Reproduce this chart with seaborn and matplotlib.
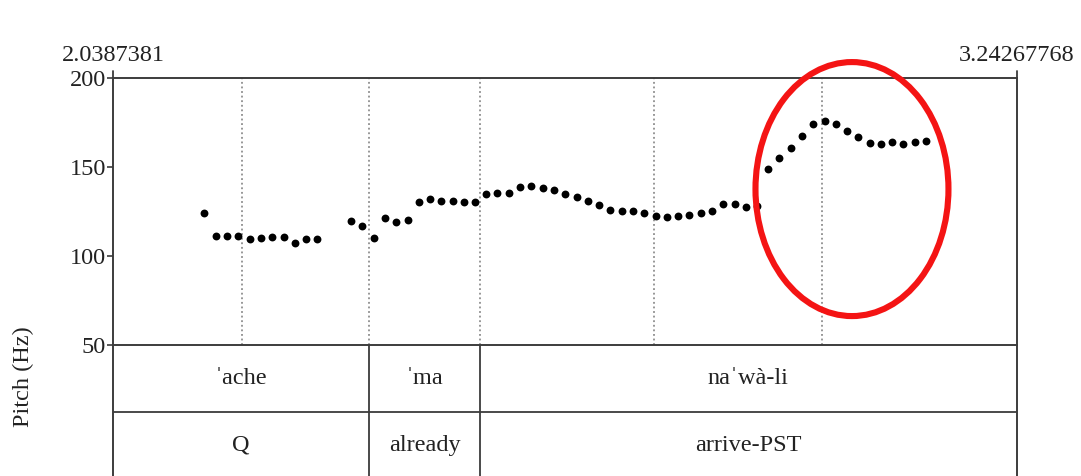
import matplotlib
matplotlib.use("Agg")
import matplotlib.pyplot as plt
import seaborn as sns
import pandas as pd
from matplotlib.patches import Ellipse

# ---------------- data ----------------
t_start = 2.0387381
t_end = 3.24267768

pitch_time = [2.1600, 2.1755, 2.1905, 2.2056, 2.2208, 2.2358, 2.2509, 2.2660, 2.2811, 2.2957, 2.3104,
              2.3557, 2.3707, 2.3859, 2.4009, 2.4160, 2.4312, 2.4458, 2.4609, 2.4759, 2.4911, 2.5062,
              2.5208, 2.5359, 2.5508, 2.5661, 2.5811, 2.5958, 2.6110, 2.6260, 2.6411, 2.6563, 2.6709,
              2.6860, 2.7010, 2.7162, 2.7308, 2.7459, 2.7615, 2.7765, 2.7912, 2.8062, 2.8214, 2.8364,
              2.8515, 2.8667, 2.8817, 2.8968, 2.9114, 2.9261, 2.9413, 2.9563, 2.9714, 2.9865, 3.0016,
              3.0162, 3.0313, 3.0465, 3.0615, 3.0766, 3.0912, 3.1064, 3.1215]
pitch_hz = [124.3, 111.5, 111.5, 111.1, 109.6, 109.9, 110.9, 110.9, 107.3, 109.4, 109.6,
            119.5, 116.7, 110.2, 121.2, 119.2, 120.5, 130.2, 132.2, 131.0, 130.8, 130.2,
            130.3, 134.6, 135.5, 135.5, 138.7, 139.1, 138.1, 136.8, 135.1, 133.3, 130.8,
            128.9, 126.1, 125.4, 125.4, 124.3, 122.7, 122.0, 122.7, 123.1, 123.9, 125.4,
            129.1, 129.3, 127.8, 128.0, 148.7, 155.3, 160.7, 167.5, 173.9, 175.6, 174.1,
            170.3, 166.9, 163.7, 163.0, 163.9, 163.0, 164.1, 164.6]

tier1_labels = ["\u02c8ache", "\u02c8ma", "na\u02c8w\u00e0-li"]
tier2_labels = ["Q", "already", "arrive-PST"]
tier_bounds = [t_start, 2.3801, 2.5272, t_end]
dotted_marks = [2.2109, 2.3801, 2.5272, 2.7599, 2.9836]
y_ticks = [50, 100, 150, 200]
y_min, y_max = 50, 200

# highlight ellipse (time centre, Hz centre, width s, height Hz)
ellipse_center = (3.0229, 137.6)
ellipse_size = (0.257, 142.7)

# ---------------- style ----------------
sns.set_style("white")
plt.rcParams['font.family'] = ['Liberation Serif', 'DejaVu Serif']
line_col = "#3c3c3c"
text_col = "#222222"
FS = 17.5

W, H = 1081, 476
fig = plt.figure(figsize=(W / 100, H / 100), dpi=100)

L, R, T, B = 113, 1017, 78, 345
ax = fig.add_axes([L / W, 1 - B / H, (R - L) / W, (B - T) / H])

df = pd.DataFrame({"time": pitch_time, "hz": pitch_hz})
sns.scatterplot(data=df, x="time", y="hz", ax=ax, color="black", s=32,
                linewidth=0, zorder=3, legend=False)

for t in dotted_marks:
    ax.axvline(t, color="#7a7a7a", lw=1.1, ls=(0, (1.2, 1.8)), zorder=1)

ax.set_xlim(t_start, t_end)
ax.set_ylim(y_min, y_max)
ax.set_yticks(y_ticks)
ax.set_yticklabels([str(v) for v in y_ticks])
ax.set_xticks([])
ax.set_xlabel("")
ax.set_ylabel("")
ax.tick_params(axis="y", direction="out", length=4, width=1.2, color=line_col,
               labelsize=FS, labelcolor=text_col, pad=1, left=True)
for sp in ax.spines.values():
    sp.set_color(line_col)
    sp.set_linewidth(1.4)
ax.spines["bottom"].set_visible(False)

# small upward ticks at the time marks
for xa in (0, 1):
    ax.plot([xa, xa], [1, 1 + 7 / (B - T)], transform=ax.transAxes,
            color=line_col, lw=1.3, clip_on=False)

ax.annotate(str(t_start), xy=(0, 1), xycoords="axes fraction", xytext=(0, 12),
            textcoords="offset points", ha="center", va="baseline",
            fontsize=FS, color=text_col)
ax.annotate(str(t_end), xy=(1, 1), xycoords="axes fraction", xytext=(0, 12),
            textcoords="offset points", ha="center", va="baseline",
            fontsize=FS, color=text_col)

ell = Ellipse(ellipse_center, ellipse_size[0], ellipse_size[1], fill=False,
              edgecolor="#f41414", lw=4.4, clip_on=False, zorder=5)
ax.add_patch(ell)

# ---------------- tiers ----------------
tier_h = 66.7
ax2 = fig.add_axes([L / W, 1 - (B + 2 * tier_h) / H, (R - L) / W, 2 * tier_h / H])
ax2.set_xlim(t_start, t_end)
ax2.set_ylim(0, 2)
ax2.set_xticks([])
ax2.set_yticks([])
for sp in ax2.spines.values():
    sp.set_color(line_col)
    sp.set_linewidth(1.4)
ax2.axhline(1, color=line_col, lw=1.3)
for b in tier_bounds[1:-1]:
    ax2.axvline(b, color=line_col, lw=1.3)
for i in range(len(tier1_labels)):
    c = (tier_bounds[i] + tier_bounds[i + 1]) / 2
    ax2.text(c, 1.5, tier1_labels[i], ha="center", va="center", fontsize=FS, color=text_col)
    ax2.text(c, 0.5, tier2_labels[i], ha="center", va="center", fontsize=FS, color=text_col)

fig.text(23 / W, 1 - 377 / H, "Pitch (Hz)", rotation=90, ha="center", va="center",
         fontsize=FS, color=text_col)

fig.savefig("out.png", dpi=100, facecolor="white")
